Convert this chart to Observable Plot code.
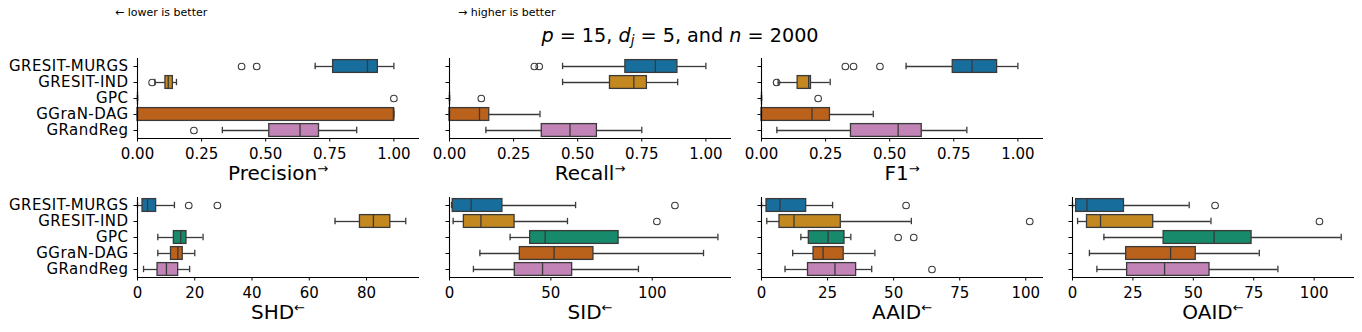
<!DOCTYPE html>
<html><head><meta charset="utf-8">
<script src="https://cdn.jsdelivr.net/npm/d3@7"></script>
<script src="https://cdn.jsdelivr.net/npm/@observablehq/plot@0.6"></script>
<style>
body{margin:0;background:#fff;}
#chart{position:relative;width:1362px;height:332px;overflow:hidden;font-family:"DejaVu Sans",sans-serif;color:#000;}
#chart > svg{position:absolute;}
</style></head><body><div id="chart"></div>
<script>
// ---- data ----
const methods = ["GRESIT-MURGS", "GRESIT-IND", "GPC", "GGraN-DAG", "GRandReg"];
// each row: [lower whisker, Q1, median, Q3, upper whisker]
const precisionBoxes = [[0.693,0.763,0.897,0.9375,1.0],[0.068,0.109,0.12,0.138,0.152],[0,0,0,0,0],[0,0,1,1,1],[0.331,0.514,0.634,0.708,0.855]];
const precisionOutliers = [[0.406,0.465],[0.057],[1.0],[],[0.22]];
const recallBoxes = [[0.441,0.686,0.803,0.889,1.0],[0.441,0.626,0.719,0.77,0.89],[0,0,0,0,0],[0,0,0.117,0.155,0.353],[0.142,0.36,0.47,0.575,0.75]];
const recallOutliers = [[0.331,0.35],[],[0.124],[],[]];
const f1Boxes = [[0.564,0.746,0.821,0.919,1.0],[0.065,0.141,0.184,0.193,0.268],[0,0,0,0,0],[0,0,0.197,0.267,0.436],[0.06,0.349,0.533,0.625,0.801]];
const f1Outliers = [[0.327,0.359,0.462],[0.059],[0.221],[],[]];
const shdBoxes = [[0,1.75,3.5,6.5,12.9],[69,77.7,82.4,88.3,93.7],[7.1,12.7,15.1,17.1,22.9],[7.1,11.7,14.1,15.8,20.0],[2.1,7,10.1,14.2,18.2]];
const shdOutliers = [[17.9,27.9],[],[],[],[]];
const sidBoxes = [[1,1.6,10.7,26.1,62.2],[1.8,7.1,15.5,32.1,58.2],[29.9,39.8,47.2,83.4,132.4],[15,34.7,51.6,71,125.3],[11.8,32.2,45.9,60.5,93.2]];
const sidOutliers = [[111.2],[102.3],[],[],[]];
const aaidBoxes = [[0,1.9,7.0,16.9,26.9],[2,6.8,12.3,30,56.7],[14.9,17.9,25.2,31.4,33.8],[11.8,19.7,23.3,31.1,42.9],[8.9,17.6,27.8,35.8,41.7]];
const aaidOutliers = [[54.7],[101.5],[51.7,57.6],[],[64.5]];
const oaidBoxes = [[0,1.5,6.0,21.3,48.3],[2.1,6,11.6,33.4,57.3],[13,37.7,58.6,74.1,111.2],[7,22.2,40.6,51,77.3],[10.1,22.6,38.1,56.7,85]];
const oaidOutliers = [[59.0],[102.2],[],[],[]];
const unitTicks = [0, 0.25, 0.5, 0.75, 1.0];
const shdTicks = [0, 20, 40, 60, 80];
const sidTicks = [0, 50, 100];
const aidTicks = [0, 25, 50, 75, 100];

// ---- style ----
const palette = ["#176d9c", "#c38820", "#168a6a", "#ba611b", "#c283b6"];
const edge = "#3a3a3a";

const panels = [
  {name:"Precision", arrow:"→", boxes:precisionBoxes, outs:precisionOutliers, max:1.1, ticks:unitTicks, fmt:d3.format(".2f"), col:0, row:0},
  {name:"Recall", arrow:"→", boxes:recallBoxes, outs:recallOutliers, max:1.1, ticks:unitTicks, fmt:d3.format(".2f"), col:1, row:0},
  {name:"F1", arrow:"→", boxes:f1Boxes, outs:f1Outliers, max:1.1, ticks:unitTicks, fmt:d3.format(".2f"), col:2, row:0},
  {name:"SHD", arrow:"←", boxes:shdBoxes, outs:shdOutliers, max:98.5, ticks:shdTicks, fmt:d3.format("d"), col:0, row:1},
  {name:"SID", arrow:"←", boxes:sidBoxes, outs:sidOutliers, max:139.1, ticks:sidTicks, fmt:d3.format("d"), col:1, row:1},
  {name:"AAID", arrow:"←", boxes:aaidBoxes, outs:aaidOutliers, max:106.7, ticks:aidTicks, fmt:d3.format("d"), col:2, row:1},
  {name:"OAID", arrow:"←", boxes:oaidBoxes, outs:oaidOutliers, max:116.7, ticks:aidTicks, fmt:d3.format("d"), col:3, row:1}
];

const chart = document.getElementById("chart");
const colLeft = [137, 449, 761, 1072];
const rowTop = [58, 197];
const W = 282, H = 80;
const mt = 5, mr = 12, mb = 50;

for (const p of panels) {
  const ml = p.col === 0 ? 135 : 12;
  const rows = methods.map((m, i) => ({i, m, lo:p.boxes[i][0], q1:p.boxes[i][1], med:p.boxes[i][2], q3:p.boxes[i][3], hi:p.boxes[i][4]}));
  const outs = p.outs.flatMap((arr, i) => arr.map(v => ({i, v})));
  const svg = Plot.plot({
    width: W + ml + mr, height: H + mt + mb,
    marginLeft: ml, marginRight: mr, marginTop: mt, marginBottom: mb,
    style: {fontFamily: "DejaVu Sans", fontSize: "15px", background: "transparent", color: "#000", overflow: "visible"},
    x: {domain: [0, p.max], ticks: p.ticks, tickFormat: p.fmt, tickSize: 3.5, tickPadding: 6, label: null},
    y: {domain: [4.5, -0.5], ticks: [0,1,2,3,4], tickFormat: p.col === 0 ? (i => methods[i]) : (() => ""), tickSize: 3.5, tickPadding: 5.5, label: null},
    color: {domain: methods, range: palette},
    marks: [
      Plot.ruleY(rows, {y: "i", x1: "lo", x2: "q1", stroke: edge, strokeWidth: 1.3}),
      Plot.ruleY(rows, {y: "i", x1: "q3", x2: "hi", stroke: edge, strokeWidth: 1.3}),
      Plot.rect(rows, {x1: "q1", x2: "q3", y1: d => d.i - 0.4, y2: d => d.i + 0.4, fill: "m", stroke: edge, strokeWidth: 1.3, inset: 0}),
      Plot.ruleX(rows, {x: "med", y1: d => d.i - 0.4, y2: d => d.i + 0.4, stroke: edge, strokeWidth: 1.3}),
      Plot.ruleX(rows, {x: "lo", y1: d => d.i - 0.2, y2: d => d.i + 0.2, stroke: edge, strokeWidth: 1.3}),
      Plot.ruleX(rows, {x: "hi", y1: d => d.i - 0.2, y2: d => d.i + 0.2, stroke: edge, strokeWidth: 1.3}),
      Plot.dot(outs, {x: "v", y: "i", r: 3.3, stroke: edge, fill: "none", strokeWidth: 1.1}),
      Plot.ruleX([0], {stroke: "#000", strokeWidth: 1.1}),
      Plot.ruleY([4.5], {stroke: "#000", strokeWidth: 1.1})
    ]
  });
  d3.select(svg).selectAll('[aria-label^="y-axis"]').attr("letter-spacing", "0.45px");
  const t = d3.select(svg).append("text")
    .attr("x", ml + W / 2).attr("y", mt + H + 41.5)
    .attr("text-anchor", "middle").attr("font-size", 20).attr("fill", "#000");
  t.append("tspan").text(p.name);
  t.append("tspan").attr("font-size", 13).attr("dy", -7).text(p.arrow);
  svg.style.left = (colLeft[p.col] - ml) + "px";
  svg.style.top = (rowTop[p.row] - mt) + "px";
  chart.appendChild(svg);
}

// header texts
const ov = d3.select(chart).append("svg").attr("width", 1362).attr("height", 332)
  .style("left", "0px").style("top", "0px").style("font-family", "DejaVu Sans");
ov.append("text").attr("x", 115).attr("y", 16).attr("font-size", 11).text("← lower is better");
ov.append("text").attr("x", 458).attr("y", 16).attr("font-size", 11).text("→ higher is better");
const title = ov.append("text").attr("x", 680).attr("y", 41.5).attr("text-anchor", "middle").attr("font-size", 19.2);
title.append("tspan").attr("font-style", "italic").text("p");
title.append("tspan").text(" = 15, ");
title.append("tspan").attr("font-style", "italic").text("d");
title.append("tspan").attr("font-style", "italic").attr("font-size", 13.4).attr("dy", 3.5).text("j");
title.append("tspan").attr("dy", -3.5).text(" = 5, and ");
title.append("tspan").attr("font-style", "italic").text("n");
title.append("tspan").text(" = 2000");
</script></body></html>
